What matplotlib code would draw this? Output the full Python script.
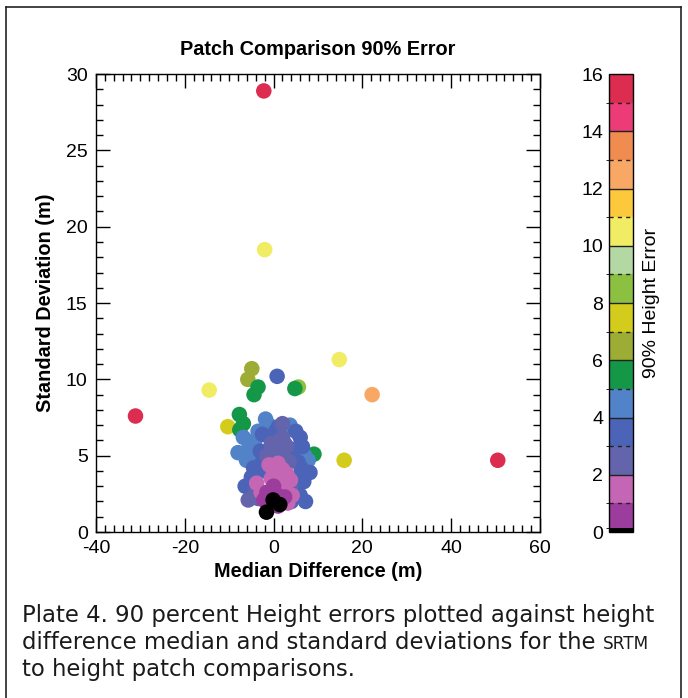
import matplotlib
matplotlib.use("Agg")
import matplotlib.pyplot as plt
import numpy as np
from matplotlib.colors import ListedColormap, BoundaryNorm
from matplotlib.lines import Line2D
from matplotlib.ticker import MultipleLocator

plt.rcParams["font.family"] = ["Liberation Sans", "DejaVu Sans"]
plt.rcParams["axes.unicode_minus"] = False

# Patch comparison results: median difference (m), standard deviation (m),
# 90% height error (m) for every patch.
median_diff = [
    -2.2, -2.0, -14.5, 14.8, 22.2, -31.1, 50.5, 15.9, -10.3,
    -4.9, -5.8, -3.5, -4.4, 0.8, 4.8, 5.6, -7.7, -6.8, -7.6, 9.1,
    # main cluster
    -1.8, 3.7, 1.1, -6.8, -3.5, 6.0, -8.0, -6.1, 7.8, 8.2, -6.4, -5.7, 6.0,
    -5.5, -4.8, -4.5, -5.0, -4.0, -3.5, -4.2, -3.0, -2.5, -1.0, 0.5, 2.0,
    5.0, 6.5, 7.0, 6.2, 6.8, 5.5, 4.6, 3.8, 2.5, 1.5, 0.5, -0.5, -1.5, -2.5,
    -2.0, -1.0, 0.0, 1.5, 3.0, 4.5, 5.5, 3.5, 2.0, -3.2, 7.2, 4.0,
    -1.0, 0.0, 1.0, 2.0, 3.0, 3.8, -0.5, 1.5, 2.5, 4.2, 0.5, -3.8, -2.8,
    -1.5, -0.5, 0.5, 1.5, 2.5, -2.2, 0.0, 1.0, 3.2,
    -0.1, -1.6, 1.4,
]
std_dev = [
    28.9, 18.5, 9.3, 11.3, 9.0, 7.6, 4.7, 4.7, 6.9,
    10.7, 10.0, 9.5, 9.0, 10.2, 9.4, 9.5, 7.7, 7.1, 6.7, 5.1,
    # main cluster
    7.4, 7.0, 6.9, 6.2, 6.6, 6.2, 5.2, 4.7, 4.7, 3.9, 3.0, 2.1, 2.4,
    5.6, 5.0, 4.2, 3.6, 2.6, 2.2, 6.0, 5.3, 6.4, 7.0, 6.6, 7.1,
    6.6, 5.6, 5.0, 4.2, 3.3, 3.6, 2.6, 2.9, 5.8, 6.0, 5.6, 5.8, 5.0, 4.6,
    4.0, 4.4, 5.0, 5.2, 5.6, 5.4, 4.6, 4.6, 6.2, 4.0, 2.0, 2.0,
    4.4, 4.0, 4.5, 4.1, 3.8, 3.4, 3.5, 3.3, 3.0, 2.4, 3.8, 3.2, 2.6,
    2.6, 2.2, 2.5, 2.0, 2.3, 2.1, 3.0, 1.7, 1.9,
    2.1, 1.3, 1.8,
]
height_err = [
    15.5, 10.5, 10.5, 10.5, 12.5, 15.5, 15.5, 7.5, 7.5,
    6.5, 6.5, 5.5, 5.5, 3.5, 5.5, 8.5, 5.5, 5.5, 5.5, 5.5,
    # main cluster
    4.5, 4.5, 3.5, 4.5, 4.5, 3.5, 4.5, 4.5, 4.5, 3.5, 3.5, 2.5, 3.5,
    4.5, 4.5, 3.5, 3.5, 2.5, 2.5, 4.5, 3.5, 3.5, 4.5, 3.5, 2.5,
    3.5, 3.5, 4.5, 3.5, 3.5, 3.5, 3.5, 2.5, 2.5, 2.5, 2.5, 2.5, 2.5, 3.5,
    3.5, 2.5, 2.5, 2.5, 2.5, 3.5, 3.5, 2.5, 2.5, 3.5, 3.5, 3.5,
    1.5, 1.5, 1.5, 1.5, 1.5, 1.5, 1.5, 1.5, 1.5, 1.5, 1.5, 1.5, 1.5,
    0.5, 0.5, 0.5, 0.5, 0.5, 0.5, 0.5, 0.5, 1.5,
    0.0, 0.0, 0.0,
]

# colour bands of the 90% error scale, 1 m each (black below the first band)
band_colors = [
    "#000000",
    "#9c3c9c", "#c466b4", "#6464ac", "#4c64b8", "#5282c8", "#149848",
    "#9cac34", "#d4cc1c", "#8cc040", "#b4d8a4", "#f0ec64", "#fcc83c",
    "#f8a864", "#f08c50", "#ec3c78", "#dc2c50",
]
band_edges = [0, 0.15] + list(range(1, 17))

cmap = ListedColormap(band_colors)
norm = BoundaryNorm(band_edges, cmap.N)

fig = plt.figure(figsize=(6.88, 6.98), dpi=100, facecolor="white")
ax = fig.add_axes([0.1395, 0.2378, 0.6453, 0.656])
cax = fig.add_axes([0.885, 0.2378, 0.035, 0.656])

order = np.argsort(np.array(height_err))[::-1]
x = np.array(median_diff)[order]
y = np.array(std_dev)[order]
c = np.array(height_err)[order]
sc = ax.scatter(x, y, c=c, cmap=cmap, norm=norm, s=125, linewidths=0, zorder=3)

ax.set_xlim(-40, 60)
ax.set_ylim(0, 30)
ax.xaxis.set_major_locator(MultipleLocator(20))
ax.xaxis.set_minor_locator(MultipleLocator(2))
ax.yaxis.set_major_locator(MultipleLocator(5))
ax.yaxis.set_minor_locator(MultipleLocator(1))
ax.tick_params(which="both", direction="in", top=True, right=True,
               width=1.0, labelsize=14)
ax.tick_params(axis="x", pad=6)
ax.tick_params(axis="y", pad=6)
ax.tick_params(which="major", length=10)
ax.tick_params(which="minor", length=5)
for sp in ax.spines.values():
    sp.set_linewidth(1.0)

ax.set_title("Patch Comparison 90% Error", fontsize=14.3, fontweight="bold", pad=14)
ax.set_xlabel("Median Difference (m)", fontsize=14.3, fontweight="bold", labelpad=3)
ax.set_ylabel("Standard Deviation (m)", fontsize=14.3, fontweight="bold", labelpad=8)

cb = fig.colorbar(sc, cax=cax, spacing="proportional", ticks=range(0, 17, 2))
cb.outline.set_linewidth(1.0)
cax.yaxis.set_ticks_position("left")
cax.tick_params(length=0, labelsize=14, pad=4)
cax.yaxis.set_label_position("right")
cb.set_label("90% Height Error", fontsize=14, labelpad=7)
for v in range(1, 16):
    if v % 2 == 0:
        cax.axhline(v, color="#222222", lw=1.0)
    else:
        cax.axhline(v, color="#222222", lw=1.0, ls=(0, (3, 3)))
cax.axhline(0, color="black", lw=3)

# frame round the plate
for xs, ys in [([0.009, 0.009], [-0.01, 0.99]),
               ([0.009, 0.99], [0.99, 0.99]),
               ([0.99, 0.99], [0.99, -0.01])]:
    fig.add_artist(Line2D(xs, ys, transform=fig.transFigure, color="#222222", lw=1.2))

cap_kw = dict(fontsize=16.4, color="#1a1a1a", va="baseline", ha="left",
              family="DejaVu Sans")
fig.text(0.032, 0.109, "Plate 4. 90 percent Height errors plotted against height", **cap_kw)
line2 = fig.text(0.032, 0.070, "difference median and standard deviations for the ", **cap_kw)
fig.text(0.032, 0.031, "to height patch comparisons.", **cap_kw)

renderer = fig.canvas.get_renderer()
bb = line2.get_window_extent(renderer=renderer)
x_end = bb.x1 / fig.bbox.width
fig.text(x_end, 0.070, "SRTM", fontsize=12.2, color="#1a1a1a", va="baseline",
         ha="left", family="DejaVu Sans")

fig.savefig("out.png", dpi=100, facecolor="white")
